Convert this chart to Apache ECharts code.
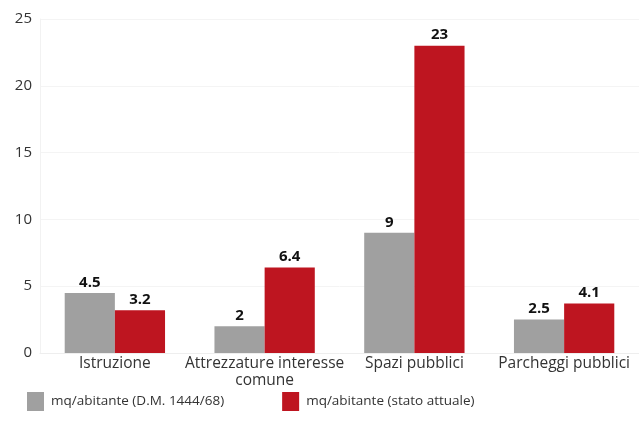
<!DOCTYPE html>
<html>
<head>
<meta charset="utf-8">
<script src="https://cdn.jsdelivr.net/npm/echarts@6/dist/echarts.min.js"></script>
<style>html,body{margin:0;padding:0;background:#fff}#c{width:639px;height:421px}</style>
</head>
<body>
<div id="c"></div>
<script>
var categories = ['Istruzione', 'Attrezzature interesse\ncomune', 'Spazi pubblici', 'Parcheggi pubblici'];
var seriesNames = ['mq/abitante (D.M. 1444/68)', 'mq/abitante (stato attuale)'];
var normValues = [4.5, 2, 9, 2.5];
var normLabels = ['4.5', '2', '9', '2.5'];
var actualValues = [3.2, 6.4, 23, 3.7];
var actualLabels = ['3.2', '6.4', '23', '4.1'];
var yTicks = { min: 0, max: 25, interval: 5 };

var font = '"Open Sans", "Noto Sans", sans-serif';
var chart = echarts.init(document.getElementById('c'), null, { renderer: 'canvas' });
function lbl(arr) {
  return {
    show: true, position: 'top', distance: 3,
    formatter: function (p) { return arr[p.dataIndex]; },
    color: '#111', fontWeight: 'bold', fontSize: 15, fontFamily: font
  };
}
chart.setOption({
  animation: false,
  textStyle: { fontFamily: font },
  grid: { left: 40, right: 0, top: 19, bottom: 68, containLabel: false },
  legend: {
    left: 27, top: 392, padding: 0, itemWidth: 17, itemHeight: 19, itemGap: 58,
    icon: 'rect',
    textStyle: { color: '#333', fontSize: 13.5, fontFamily: font, padding: [0, 0, 0, 2] },
    data: seriesNames
  },
  xAxis: {
    type: 'category', data: categories,
    axisLine: { show: true, lineStyle: { color: '#eeeeee' } },
    axisTick: { show: false },
    axisLabel: { color: '#333', fontSize: 15.5, fontFamily: font, margin: 2, interval: 0, lineHeight: 17 }
  },
  yAxis: {
    type: 'value', min: yTicks.min, max: yTicks.max, interval: yTicks.interval,
    axisLine: { show: true, lineStyle: { color: '#f2f2f2' } },
    axisTick: { show: false },
    splitLine: { lineStyle: { color: '#f4f4f4' } },
    axisLabel: { color: '#333', fontSize: 15, fontFamily: font, margin: 8 }
  },
  series: [
    { name: seriesNames[0], type: 'bar', data: normValues, barGap: '0%', barCategoryGap: '33%',
      itemStyle: { color: '#a0a0a0' }, label: lbl(normLabels) },
    { name: seriesNames[1], type: 'bar', data: actualValues,
      itemStyle: { color: '#be1520' }, label: lbl(actualLabels) }
  ]
});
</script>
</body>
</html>
